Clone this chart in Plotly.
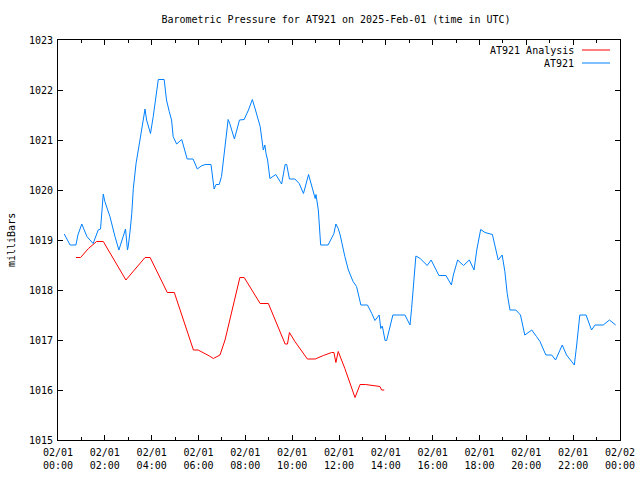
import plotly.graph_objects as go
from datetime import datetime, timedelta

base = datetime(2025, 2, 1)

# AT921 observations: minutes after 00:00 UTC, pressure (mbar)
obs_minutes = [16, 31, 46, 51, 61, 74, 90, 103, 109, 115, 116, 120, 133, 146, 156, 167, 173, 178, 180, 185,
               189, 193, 200, 210, 218, 223, 227, 237, 244, 251, 257, 272, 278, 285, 291, 295, 304, 317, 331, 346,
               357, 367, 377, 392, 396, 400, 405, 413, 419, 424, 430, 436, 440, 452, 465, 477, 488, 498, 506, 518,
               526, 530, 533, 537, 543, 558, 569, 573, 582, 586, 593, 607, 618, 629, 642, 650, 659, 661, 667, 673,
               692, 707, 712, 718, 723, 735, 744, 756, 765, 776, 793, 804, 812, 823, 827, 831, 834, 838, 842, 851,
               858, 889, 902, 906, 910, 917, 928, 946, 956, 976, 994, 1008, 1013, 1024, 1039, 1054, 1066, 1073, 1083, 1094,
               1113, 1120, 1128, 1138, 1145, 1151, 1158, 1173, 1185, 1196, 1214, 1226, 1235, 1250, 1265, 1275, 1292, 1303, 1323, 1329,
               1337, 1353, 1367, 1376, 1397, 1413, 1429]
obs_values = [1019.12, 1018.90, 1018.90, 1019.10, 1019.32, 1019.07, 1018.93, 1019.20, 1019.22, 1019.74, 1019.92, 1019.77, 1019.47, 1019.07, 1018.80, 1019.07, 1019.22, 1018.80, 1018.87, 1019.20,
              1019.53, 1020.03, 1020.53, 1021.00, 1021.40, 1021.62, 1021.40, 1021.13, 1021.47, 1021.93, 1022.21, 1022.21, 1021.80, 1021.57, 1021.40, 1021.07, 1020.92, 1021.01, 1020.62, 1020.62,
              1020.42, 1020.48, 1020.51, 1020.51, 1020.25, 1020.02, 1020.11, 1020.11, 1020.27, 1020.60, 1020.97, 1021.41, 1021.33, 1021.02, 1021.40, 1021.41, 1021.60, 1021.81, 1021.60, 1021.27,
              1020.80, 1020.90, 1020.73, 1020.60, 1020.23, 1020.31, 1020.17, 1020.12, 1020.51, 1020.51, 1020.22, 1020.22, 1020.13, 1019.93, 1020.31, 1020.07, 1019.83, 1019.91, 1019.60, 1018.90,
              1018.90, 1019.13, 1019.32, 1019.23, 1019.10, 1018.67, 1018.40, 1018.17, 1018.07, 1017.70, 1017.70, 1017.53, 1017.39, 1017.50, 1017.23, 1017.28, 1017.17, 1016.99, 1016.99, 1017.27,
              1017.50, 1017.50, 1017.30, 1017.63, 1018.07, 1018.68, 1018.63, 1018.49, 1018.60, 1018.29, 1018.29, 1018.10, 1018.30, 1018.60, 1018.49, 1018.60, 1018.40, 1018.80, 1019.21, 1019.15,
              1019.11, 1018.87, 1018.60, 1018.70, 1018.37, 1017.93, 1017.60, 1017.60, 1017.50, 1017.10, 1017.20, 1017.07, 1016.97, 1016.70, 1016.70, 1016.60, 1016.90, 1016.70, 1016.50, 1016.90,
              1017.50, 1017.50, 1017.20, 1017.30, 1017.30, 1017.40, 1017.30]

# AT921 Analysis
ana_minutes = [46, 58, 78, 95, 99, 116, 138, 159, 174, 223, 236, 280, 298, 347, 359, 388, 398, 415, 428, 466,
               477, 518, 539, 582, 588, 593, 607, 639, 659, 680, 701, 707, 712, 718, 735, 761, 774, 788, 808, 825,
               829, 836]
ana_values = [1018.65, 1018.65, 1018.83, 1018.93, 1018.97, 1018.97, 1018.67, 1018.40, 1018.20, 1018.65, 1018.65, 1017.95, 1017.95, 1016.80, 1016.80, 1016.68, 1016.63, 1016.70, 1017.00, 1018.25,
              1018.25, 1017.73, 1017.73, 1016.92, 1016.92, 1017.15, 1016.97, 1016.62, 1016.62, 1016.69, 1016.75, 1016.75, 1016.55, 1016.77, 1016.43, 1015.85, 1016.11, 1016.11, 1016.09, 1016.07,
              1016.00, 1016.00]

tick_hours = [0, 2, 4, 6, 8, 10, 12, 14, 16, 18, 20, 22, 24]
tick_labels = ["02/01<br>00:00", "02/01<br>02:00", "02/01<br>04:00", "02/01<br>06:00", "02/01<br>08:00",
               "02/01<br>10:00", "02/01<br>12:00", "02/01<br>14:00", "02/01<br>16:00", "02/01<br>18:00",
               "02/01<br>20:00", "02/01<br>22:00", "02/02<br>00:00"]
y_ticks = [1015, 1016, 1017, 1018, 1019, 1020, 1021, 1022, 1023]

RED = "#ff0000"
BLUE = "#0080ff"
FONT = "DejaVu Sans Mono"
FS = 10

def t(m):
    return base + timedelta(minutes=m)

fig = go.Figure()
fig.add_trace(go.Scatter(x=[t(m) for m in ana_minutes], y=ana_values, mode="lines",
                         line=dict(color=RED, width=1), name="AT921 Analysis", showlegend=False))
fig.add_trace(go.Scatter(x=[t(m) for m in obs_minutes], y=obs_values, mode="lines",
                         line=dict(color=BLUE, width=1), name="AT921", showlegend=False))

axis_common = dict(showline=True, linecolor="black", linewidth=1, mirror="ticks", ticks="inside",
                   tickcolor="black", showgrid=False, zeroline=False, automargin=False,
                   tickfont=dict(family=FONT, size=FS, color="black"))

fig.update_xaxes(range=[t(0), t(24 * 60)], tickvals=[t(h * 60) for h in tick_hours], ticktext=tick_labels,
                 ticklen=5, ticklabelstandoff=3,
                 minor=dict(ticks="inside", ticklen=3, tickcolor="black", dtick=3600000, showgrid=False),
                 **axis_common)
fig.update_yaxes(range=[1015, 1023], tickvals=y_ticks, ticklen=5, ticklabelstandoff=2, **axis_common)

# Legend (key on the right, gnuplot style)
legend_items = [("AT921 Analysis", RED), ("AT921", BLUE)]
for i, (name, col) in enumerate(legend_items):
    ypix = 50 + i * 13
    yp = 1 - (ypix - 40) / 400
    fig.add_annotation(xref="paper", yref="paper", x=(575 - 58) / 562, y=yp, text=name, showarrow=False,
                       xanchor="right", yanchor="middle", borderpad=0,
                       font=dict(family=FONT, size=FS, color="black"))
    fig.add_shape(type="line", xref="paper", yref="paper", x0=(582 - 58) / 562, x1=(610 - 58) / 562,
                  y0=yp, y1=yp, line=dict(color=col, width=1))

fig.add_annotation(xref="paper", yref="paper", x=(11 - 58) / 562, y=0.5, text="milliBars", textangle=-90,
                   showarrow=False, xanchor="center", yanchor="middle", font=dict(family=FONT, size=FS, color="black"))

fig.update_layout(
    width=640, height=480,
    margin=dict(l=58, r=20, t=40, b=40, autoexpand=False),
    paper_bgcolor="white", plot_bgcolor="white",
    title=dict(text="Barometric Pressure for AT921 on 2025-Feb-01 (time in UTC)", x=336 / 640, xanchor="center",
               y=1 - 19 / 480, yanchor="middle", font=dict(family=FONT, size=FS, color="black")),
    showlegend=False,
)

fig.write_html("out.html")
